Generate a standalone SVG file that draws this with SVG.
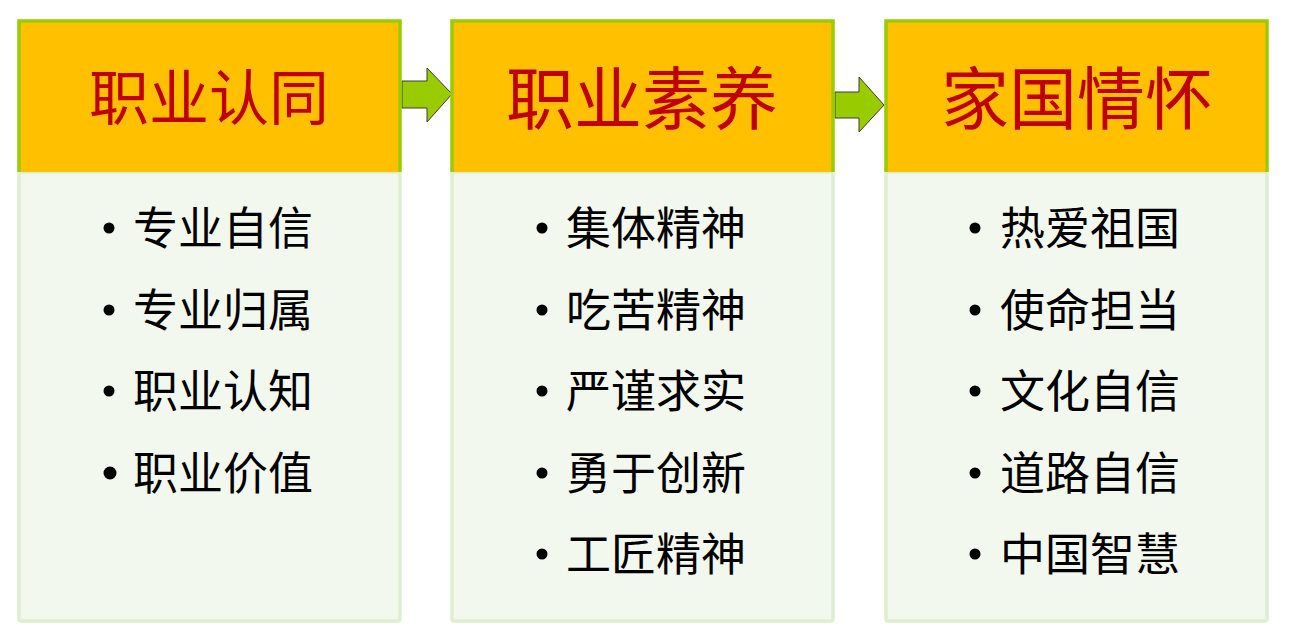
<svg xmlns="http://www.w3.org/2000/svg" width="1289" height="637" viewBox="0 0 1289 637">
<style>
.hdr{fill:#FFC000}
.hdrb{fill:none;stroke:#99CC00;stroke-width:3.5}
.body{fill:#F3F8EE;stroke:#DFEED2;stroke-width:3.5}
.title{font-family:"Noto Sans CJK SC","Noto Sans",sans-serif;fill:#C00000;text-anchor:middle}
.item{font-family:"Noto Sans CJK SC","Noto Sans",sans-serif;fill:#000;font-size:45px}
.bul{fill:#000}
.arrow{fill:#99CC00;stroke:#3a3a3a;stroke-width:1}
</style>
<rect width="1289" height="637" fill="#FFFFFF"/>
<g id="connectors">
<polygon class="arrow" points="402,81 427,81 427,68 452,94 427,122 427,108 402,108"/>
<polygon class="arrow" points="835,92 859,92 859,77 884,105 859,132 859,118 835,118"/>
</g>
<g id="node1">
<rect class="body" x="19" y="172" width="381" height="449" rx="2"/>
<rect class="hdr" x="19" y="21" width="381" height="151"/>
<path class="hdrb" d="M19,172 V21 H400 V172"/>
<text class="title" x="209" y="120" font-size="60">职业认同</text>
<circle class="bul" cx="109" cy="228" r="5.5"/>
<text class="item" x="133" y="245">专业自信</text>
<circle class="bul" cx="109" cy="310" r="5.5"/>
<text class="item" x="133" y="327">专业归属</text>
<circle class="bul" cx="109" cy="391" r="5.5"/>
<text class="item" x="133" y="408">职业认知</text>
<circle class="bul" cx="110" cy="473" r="6.5"/>
<text class="item" x="133" y="490">职业价值</text>
</g>
<g id="node2">
<rect class="body" x="452" y="172" width="381" height="449" rx="2"/>
<rect class="hdr" x="452" y="21" width="381" height="151"/>
<path class="hdrb" d="M452,172 V21 H833 V172"/>
<text class="title" x="642" y="124" font-size="68">职业素养</text>
<circle class="bul" cx="542" cy="228" r="5.5"/>
<text class="item" x="566" y="245">集体精神</text>
<circle class="bul" cx="542" cy="310" r="5.5"/>
<text class="item" x="566" y="327">吃苦精神</text>
<circle class="bul" cx="542" cy="391" r="5.5"/>
<text class="item" x="566" y="408">严谨求实</text>
<circle class="bul" cx="542" cy="473" r="5.5"/>
<text class="item" x="566" y="490">勇于创新</text>
<circle class="bul" cx="542" cy="554" r="5.5"/>
<text class="item" x="566" y="571">工匠精神</text>
</g>
<g id="node3">
<rect class="body" x="886" y="172" width="381" height="449" rx="2"/>
<rect class="hdr" x="886" y="21" width="381" height="151"/>
<path class="hdrb" d="M886,172 V21 H1267 V172"/>
<text class="title" x="1077" y="124" font-size="68">家国情怀</text>
<circle class="bul" cx="975" cy="228" r="5.5"/>
<text class="item" x="1000" y="245">热爱祖国</text>
<circle class="bul" cx="975" cy="310" r="5.5"/>
<text class="item" x="1000" y="327">使命担当</text>
<circle class="bul" cx="975" cy="391" r="5.5"/>
<text class="item" x="1000" y="408">文化自信</text>
<circle class="bul" cx="975" cy="473" r="5.5"/>
<text class="item" x="1000" y="490">道路自信</text>
<circle class="bul" cx="975" cy="554" r="5.5"/>
<text class="item" x="1000" y="571">中国智慧</text>
</g>
</svg>
